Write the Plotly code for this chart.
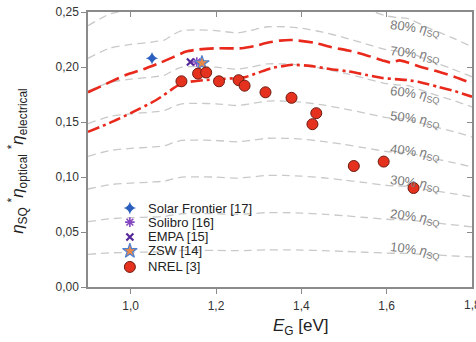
import plotly.graph_objects as go

# Shockley-Queisser limit (gray reference curves = fraction * SQ)
sq_eg = [0.90, 0.95, 1.00, 1.05, 1.08, 1.10, 1.12, 1.15, 1.20, 1.25, 1.28, 1.32, 1.36, 1.40,
         1.45, 1.50, 1.55, 1.60, 1.63, 1.65, 1.70, 1.75, 1.80]
sq_eff = [0.297, 0.310, 0.315, 0.318, 0.321, 0.328, 0.333, 0.334, 0.333, 0.330, 0.333, 0.338,
          0.338, 0.336, 0.331, 0.324, 0.316, 0.308, 0.306, 0.305, 0.294, 0.284, 0.273]
sq_levels = [0.1, 0.2, 0.3, 0.4, 0.5, 0.6, 0.7, 0.8]
sq_label_y = [0.033, 0.063, 0.094, 0.122, 0.152, 0.175, 0.211, 0.235]

# red dashed (upper) curve
up_eg = [0.90, 0.95, 0.99, 1.03, 1.07, 1.10, 1.13, 1.16, 1.20, 1.26, 1.29, 1.32, 1.35, 1.38,
         1.43, 1.47, 1.51, 1.55, 1.59, 1.61, 1.63, 1.65, 1.68, 1.72, 1.76, 1.80]
up_val = [0.177, 0.186, 0.193, 0.198, 0.204, 0.209, 0.214, 0.216, 0.217, 0.217, 0.219, 0.222,
          0.224, 0.2245, 0.222, 0.218, 0.215, 0.211, 0.206, 0.204, 0.206, 0.204, 0.200, 0.196,
          0.191, 0.185]

# red dash-dot (lower) curve
lo_eg = [0.90, 0.95, 1.00, 1.06, 1.11, 1.13, 1.17, 1.21, 1.25, 1.27, 1.30, 1.33, 1.36, 1.38,
         1.42, 1.47, 1.51, 1.55, 1.59, 1.62, 1.65, 1.68, 1.72, 1.76, 1.80]
lo_val = [0.141, 0.149, 0.158, 0.170, 0.183, 0.186, 0.188, 0.189, 0.190, 0.191, 0.195, 0.199,
          0.201, 0.202, 0.201, 0.198, 0.196, 0.193, 0.190, 0.189, 0.188, 0.186, 0.182, 0.178,
          0.173]

# measured cells
sf_eg, sf_val = [1.05], [0.208]
solibro_eg, solibro_val = [1.155], [0.2045]
empa_eg, empa_val = [1.14], [0.2045]
zsw_eg, zsw_val = [1.167], [0.2035]
nrel_eg = [1.119, 1.158, 1.177, 1.207, 1.253, 1.267, 1.316, 1.377, 1.435, 1.426, 1.523, 1.593, 1.663]
nrel_val = [0.187, 0.194, 0.195, 0.187, 0.188, 0.183, 0.177, 0.172, 0.158, 0.148, 0.110, 0.114, 0.090]

series_names = ["Solar Frontier [17]", "Solibro [16]", "EMPA [15]", "ZSW [14]", "NREL [3]"]

x_ticks = [1.0, 1.2, 1.4, 1.6, 1.8]
y_ticks = [0.00, 0.05, 0.10, 0.15, 0.20, 0.25]

FONT = "Liberation Sans, Arial"
GRAY = "#c9c9c9"
RED = "#e8291c"
AX = "#8a8a8a"

styles = [
    dict(symbol="star-diamond", size=9, color="#2a5fbf", line=dict(width=0)),
    dict(symbol="asterisk-open", size=8, color="#8547c0", line=dict(width=1.6, color="#8547c0")),
    dict(symbol="x-thin-open", size=7, color="#55279a", line=dict(width=2.2, color="#55279a")),
    dict(symbol="star", size=11, color="#e6884a", line=dict(width=1.2, color="#4f80d0")),
    dict(symbol="circle", size=11, color="#e5321f", line=dict(width=1, color="#6e1a10")),
]
series = [(sf_eg, sf_val), (solibro_eg, solibro_val), (empa_eg, empa_val),
          (zsw_eg, zsw_val), (nrel_eg, nrel_val)]

fig = go.Figure()

for lvl in sq_levels:
    fig.add_trace(go.Scatter(x=sq_eg, y=[lvl * v for v in sq_eff], mode="lines",
                             line=dict(color=GRAY, width=1.3, dash="8px,5px", shape="spline",
                                       smoothing=0.6),
                             showlegend=False, hoverinfo="skip"))

fig.add_trace(go.Scatter(x=up_eg, y=up_val, mode="lines",
                         line=dict(color=RED, width=2.6, dash="14px,6px", shape="spline",
                                   smoothing=0.6),
                         showlegend=False, hoverinfo="skip"))
fig.add_trace(go.Scatter(x=lo_eg, y=lo_val, mode="lines",
                         line=dict(color=RED, width=2.6, dash="12px,4px,3px,4px", shape="spline",
                                   smoothing=0.6),
                         showlegend=False, hoverinfo="skip"))

for name, (xs, ys), st in zip(series_names, series, styles):
    fig.add_trace(go.Scatter(x=xs, y=ys, mode="markers", name=name, marker=st,
                             showlegend=False))

# compact legend: swatches on a hidden 0..1 overlay axis, labels as annotations
leg_swatch_x = 0.109
leg_text_x = 0.152
leg_rows = [0.287, 0.236, 0.182, 0.131, 0.073]
for name, st, ry in zip(series_names, styles, leg_rows):
    fig.add_trace(go.Scatter(x=[leg_swatch_x], y=[ry], xaxis="x3", yaxis="y3", mode="markers",
                             marker=st, showlegend=False, hoverinfo="skip"))
    fig.add_annotation(x=leg_text_x, y=ry, xref="paper", yref="paper", xanchor="left",
                       yanchor="middle", showarrow=False, text=name,
                       font=dict(family=FONT, size=13, color="#222"))

# helper trace for mirrored (inside-tick) axes
fig.add_trace(go.Scatter(x=[None], y=[None], xaxis="x2", yaxis="y2", showlegend=False,
                         hoverinfo="skip"))

for lvl, ly in zip(sq_levels, sq_label_y):
    fig.add_annotation(x=1.6, y=ly, xanchor="left", yanchor="middle", showarrow=False,
                       text=f"{int(round(lvl*100))}% <i>η</i><sub>SQ</sub>", textangle=7,
                       font=dict(family=FONT, size=13, color="#7a7a7a"))

fig.add_annotation(x=1.4, y=-0.145, xref="x", yref="paper", xanchor="center",
                   yanchor="middle", showarrow=False,
                   text="<i>E</i><sub>G</sub> [eV]",
                   font=dict(family=FONT, size=17, color="#222"))

# tick label at the clipped right edge
fig.add_annotation(x=1.8, y=-0.064, xref="x", yref="paper", xanchor="center",
                   yanchor="middle", showarrow=False, text="1,8",
                   font=dict(family=FONT, size=12, color="#333"))

fig.add_annotation(x=-0.184, y=0.46, xref="paper", yref="paper", xanchor="center",
                   yanchor="middle", showarrow=False, textangle=-90,
                   text="<i>η</i><sub>SQ</sub> <sup>*</sup><i>η</i><sub>optical</sub> <sup>*</sup><i>η</i><sub>electrical</sub>",
                   font=dict(family=FONT, size=17, color="#222"))

fig.update_layout(
    width=476, height=342,
    margin=dict(l=88, r=4, t=12, b=55),
    paper_bgcolor="white", plot_bgcolor="white",
    separators=",.",
    font=dict(family=FONT, size=12, color="#333"),
    showlegend=False,
    xaxis=dict(range=[0.9, 1.8], tickvals=x_ticks[:-1], tickformat=".1f", ticks="outside",
               ticklen=5, tickcolor=AX, showline=True, linecolor=AX, linewidth=1.5,
               showgrid=False, zeroline=False, ticklabelstandoff=2),
    yaxis=dict(range=[0, 0.25], tickvals=y_ticks, tickformat=".2f", ticks="outside",
               ticklen=5, tickcolor=AX, showline=True, linecolor=AX, linewidth=1.5,
               showgrid=False, zeroline=False),
    xaxis2=dict(overlaying="x", side="top", range=[0.9, 1.8], tickvals=x_ticks,
                ticks="inside", ticklen=5, tickcolor=AX, showticklabels=False, showline=True,
                linecolor=AX, linewidth=1.5, showgrid=False, zeroline=False),
    yaxis2=dict(overlaying="y", side="right", range=[0, 0.25], tickvals=y_ticks,
                ticks="inside", ticklen=5, tickcolor=AX, showticklabels=False, showline=True,
                linecolor=AX, linewidth=1.5, showgrid=False, zeroline=False),
    xaxis3=dict(overlaying="x", range=[0, 1], visible=False, fixedrange=True),
    yaxis3=dict(overlaying="y", range=[0, 1], visible=False, fixedrange=True),
)

fig.write_html("out.html")
